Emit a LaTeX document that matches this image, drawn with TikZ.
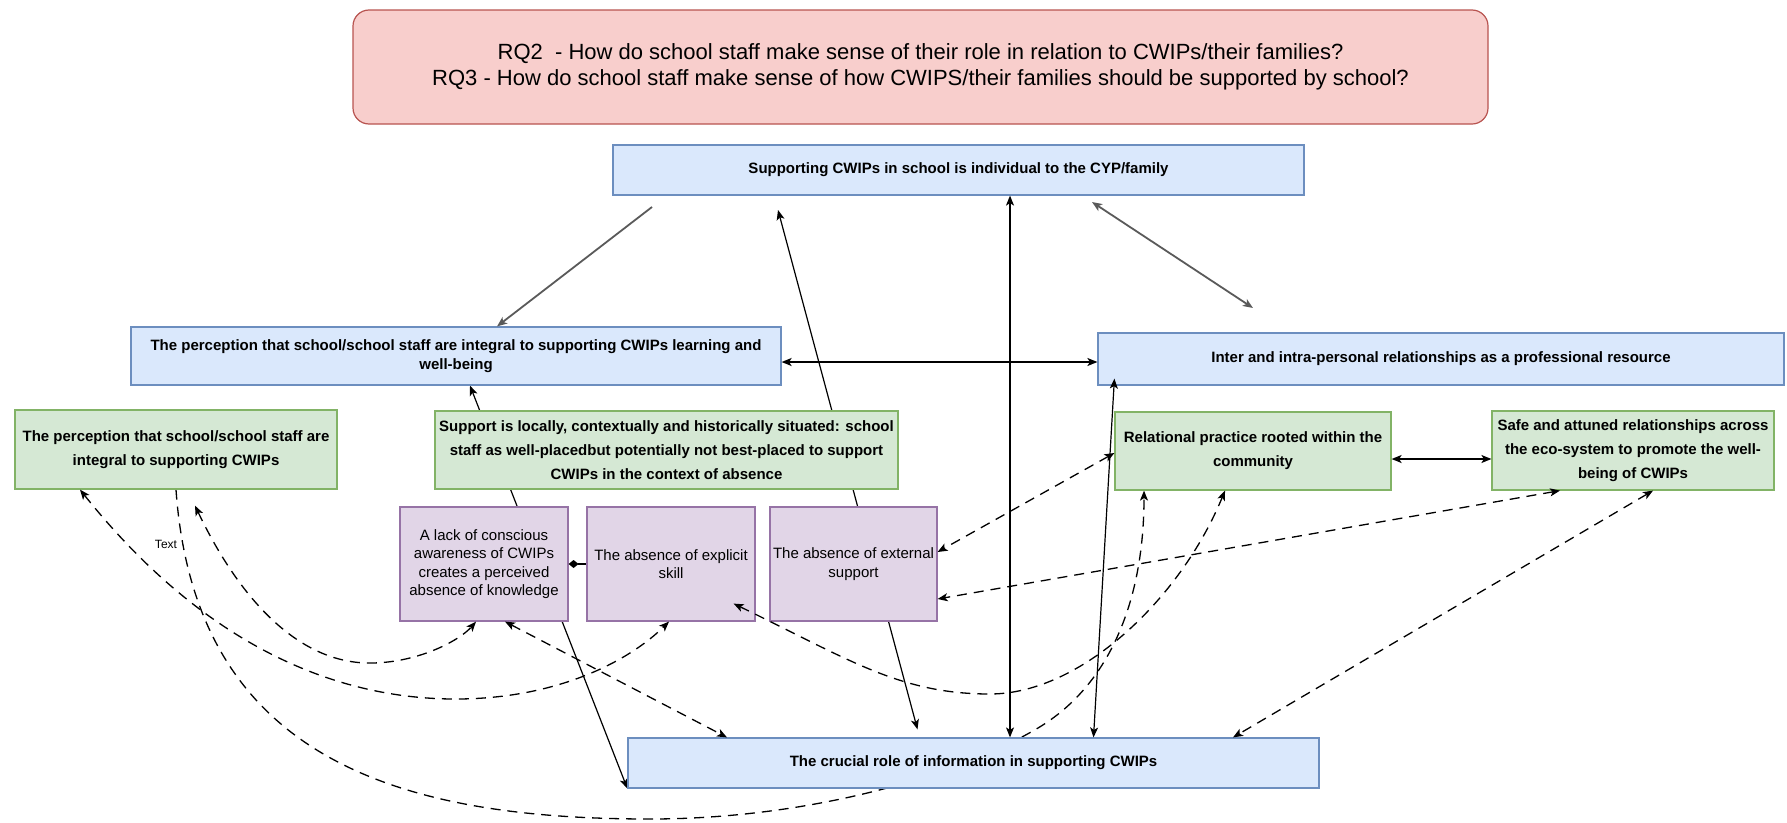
\documentclass[tikz,border=0pt]{standalone}
\usepackage{fontspec}
\setmainfont{Liberation Sans}
\usetikzlibrary{arrows.meta, positioning}
\definecolor{bluefill}{HTML}{DAE8FC}
\definecolor{blueline}{HTML}{6C8EBF}
\definecolor{greenfill}{HTML}{D5E8D4}
\definecolor{greenline}{HTML}{82B366}
\definecolor{violetfill}{HTML}{E1D5E7}
\definecolor{violetline}{HTML}{9673A6}
\definecolor{rqfill}{HTML}{F8CECC}
\definecolor{rqline}{HTML}{B85450}
\definecolor{linkgray}{HTML}{5A5A5A}
\pgfdeclarelayer{back}
\pgfsetlayers{back,main}

\tikzset{
    themebox/.style={draw=blueline, fill=bluefill, line width=1.2pt, align=center,
        font=\bfseries\fontsize{15}{19}\selectfont, inner sep=2pt},
    subtheme/.style={draw=greenline, fill=greenfill, line width=1.2pt, align=center,
        font=\bfseries\fontsize{15}{24}\selectfont, inner sep=2pt},
    barrier/.style={draw=violetline, fill=violetfill, line width=1.2pt, align=center,
        font=\fontsize{15}{18.5}\selectfont, inner sep=2pt},
    link/.style={line width=1.2pt},
    heavylink/.style={line width=1.8pt, linkgray},
    loose/.style={line width=1.3pt, dash pattern=on 10pt off 7pt},
}

\begin{document}
\begin{tikzpicture}[x=1pt, y=-1pt, >={Stealth[length=10pt, width=8pt, inset=2.5pt]}]
    \useasboundingbox (0,0) rectangle (1787,822);
    %
    \node [draw=rqline, fill=rqfill, line width=1.2pt, rounded corners=16pt,
        minimum width=1135pt, minimum height=114pt, align=center,
        font=\fontsize{22}{26}\selectfont] (rq) at (920.5,67)
        {RQ2~ - How do school staff make sense of their role in relation to CWIPs/their families?\\
         RQ3 - How do school staff make sense of how CWIPS/their families should be supported by school?};
    \node [themebox, minimum width=691pt, minimum height=50pt] (sup) at (958.5,170)
        {Supporting CWIPs in school is individual to the CYP/family};
    \node [themebox, minimum width=650pt, minimum height=58pt] (percL) at (456,356)
        {The perception that school/school staff are integral to supporting CWIPs learning and\\well-being};
    \node [themebox, minimum width=686pt, minimum height=52pt] (inter) at (1441,359)
        {Inter and intra-personal relationships as a professional resource};
    \node [themebox, minimum width=691pt, minimum height=50pt] (info) at (973.5,763)
        {The crucial role of information in supporting CWIPs};
    %
    \node [subtheme, minimum width=322pt, minimum height=79pt] (percG) at (176,449.5)
        {The perception that school/school staff are\\integral to supporting CWIPs};
    \node [subtheme, minimum width=463pt, minimum height=78pt] (local) at (666.5,450)
        {Support is locally, contextually and historically situated: school\\
         staff as well-placedbut potentially not best-placed to support\\
         CWIPs in the context of absence};
    \node [subtheme, minimum width=276pt, minimum height=78pt] (rel) at (1253,451)
        {Relational practice rooted within the\\community};
    \node [subtheme, minimum width=282pt, minimum height=79pt] (safe) at (1633,450.5)
        {Safe and attuned relationships across\\the eco-system to promote the well-\\being of CWIPs};
    %
    \node [barrier, minimum width=168pt, minimum height=114pt] (lack) at (484,564)
        {A lack of conscious\\awareness of CWIPs\\creates a perceived\\absence of knowledge};
    \node [barrier, minimum width=168pt, minimum height=114pt, right of=lack, node distance=187pt] (skill)
        {The absence of explicit\\skill};
    \node [barrier, minimum width=167pt, minimum height=114pt, right of=skill, node distance=182.5pt] (ext)
        {The absence of external\\support};
    %
    \node [font=\fontsize{12}{14}\selectfont] (note) at (166,544) {Text};
    %
    \coordinate (supFoot) at (652,207);
    \coordinate (supDrop) at (778,210);
    \coordinate (supSide) at (1092,202);
    \coordinate (interTop) at (1253,308);
    %
    \begin{pgfonlayer}{back}
    \path ([xshift=14pt]percL.south) edge[link, <->] (info.south west);
    \path (supDrop) edge[link, <->] ([xshift=-56pt, yshift=8pt]info.north);
    \draw [loose, ->] (percG.south) .. controls (195,760) and (400,819) .. (650,819)
        .. controls (800,819) and (950,780) .. (1038,728)
        .. controls (1110,685) and (1144,600) .. ([xshift=-109pt]rel.south);
    \end{pgfonlayer}
    %
    \path (supFoot) edge[heavylink, ->] ([xshift=41pt]percL.north);
    \path (supSide) edge[heavylink, <->] (interTop);
    \path ([yshift=-6pt]percL.east) edge[line width=1.6pt, <->] ([yshift=-3pt]inter.west);
    \path ([xshift=51.5pt]sup.south) edge[link, <->] ([xshift=36.5pt]info.north);
    \path ([xshift=17pt, yshift=7pt]inter.south west) edge[link, <->] ([xshift=120pt]info.north);
    \path ([yshift=-8pt]rel.east) edge[line width=1.5pt, <->] ([yshift=-8.5pt]safe.west);
    \path (lack.east) edge[link, {Diamond[length=10pt, width=8pt]}-] (skill.west);
    %
    \path ([yshift=-2pt]rel.west) edge[loose, <->] ([yshift=12pt]ext.east);
    \path ([xshift=-73pt]safe.south) edge[loose, <->] ([yshift=-35pt]ext.east);
    \path ([xshift=20pt]safe.south) edge[loose, <->] ([xshift=259.5pt]info.north);
    \path ([xshift=21pt]lack.south) edge[loose, <->] ([xshift=-246.5pt]info.north);
    \draw [loose, <->] ([xshift=-22pt, yshift=18pt]skill.south east) .. controls (850,660) and (900,694) .. (990,694)
        .. controls (1080,694) and (1180,600) .. ([xshift=-28pt]rel.south);
    \draw [loose, <->] ([xshift=-96pt]percG.south) .. controls (200,640) and (330,700) .. (459,699)
        .. controls (560,698) and (630,660) .. ([xshift=-2pt]skill.south);
    \draw [loose, <->] ([xshift=19pt, yshift=-16pt]percG.south) .. controls (240,600) and (300,665) .. (373,663)
        .. controls (420,662) and (460,640) .. ([xshift=-8pt]lack.south);
\end{tikzpicture}
\end{document}
